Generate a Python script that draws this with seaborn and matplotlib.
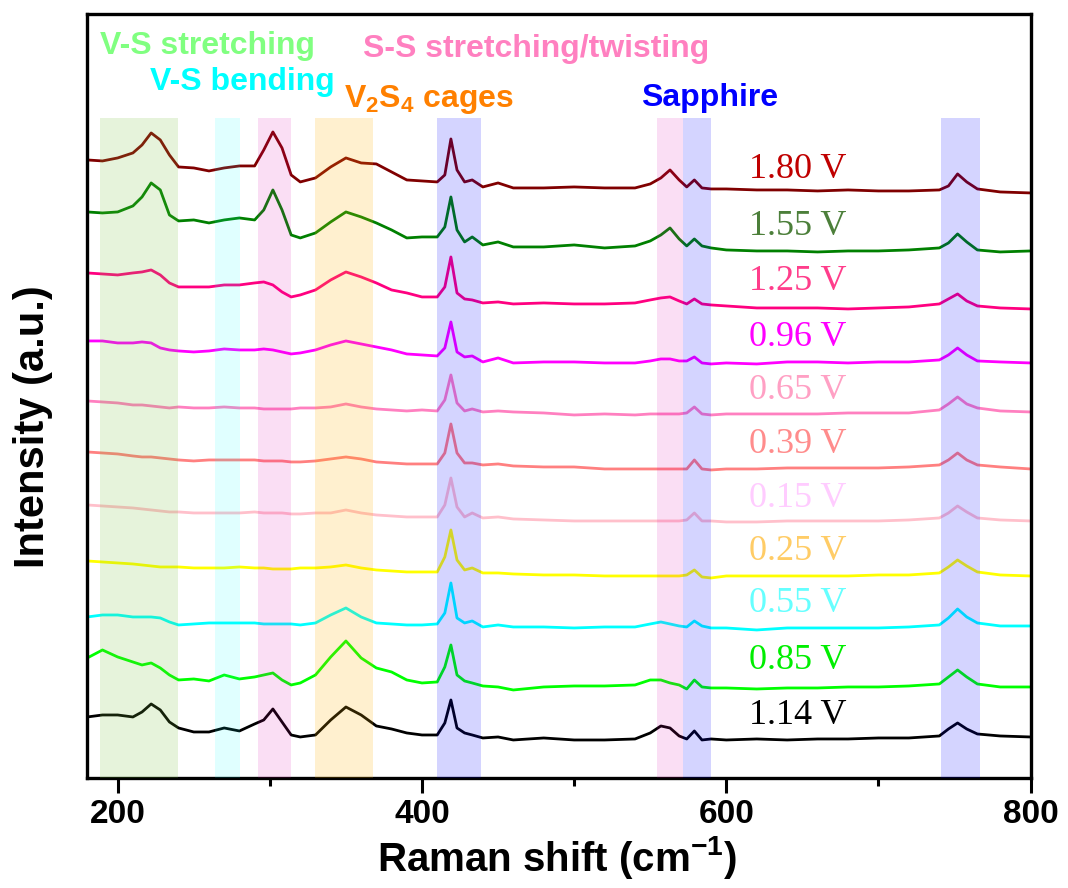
import numpy as np
import pandas as pd
import matplotlib
matplotlib.use("Agg")
import matplotlib.pyplot as plt
import seaborn as sns
from matplotlib.ticker import MultipleLocator

# ---------------- data ----------------
shift = [180, 190, 200, 210, 216, 222, 228, 234, 240, 250,
         260, 270, 280, 290, 296, 302, 308, 314, 320, 330,
         340, 350, 360, 370, 380, 390, 400, 410, 415, 419,
         423, 428, 433, 440, 450, 460, 480, 500, 520, 540,
         550, 557, 563, 569, 574, 579, 584, 590, 600, 620,
         640, 660, 680, 700, 720, 740, 746, 752, 758, 765,
         780, 800]

voltages = ["1.80 V", "1.55 V", "1.25 V", "0.96 V", "0.65 V", "0.39 V",
            "0.15 V", "0.25 V", "0.55 V", "0.85 V", "1.14 V"]

I_180 = [618, 617, 620, 625, 633, 645, 638, 623, 611, 610,
         607, 610, 612, 612, 628, 646, 630, 603, 596, 600,
         611, 620, 615, 614, 606, 598, 597, 596, 603, 639,
         608, 596, 598, 591, 595, 590, 590, 591, 590, 590,
         594, 600, 608, 598, 591, 598, 590, 589, 589, 588,
         588, 587, 588, 587, 587, 588, 592, 604, 596, 589,
         586, 585]
I_155 = [566, 565, 566, 572, 581, 595, 588, 563, 557, 558,
         555, 558, 560, 558, 568, 588, 568, 543, 540, 545,
         556, 566, 561, 555, 548, 540, 541, 541, 551, 581,
         548, 536, 541, 533, 536, 531, 531, 533, 530, 532,
         537, 543, 550, 539, 532, 539, 532, 530, 528, 527,
         527, 526, 527, 527, 528, 530, 535, 544, 536, 528,
         526, 527]
I_125 = [505, 504, 503, 505, 506, 508, 503, 495, 491, 491,
         491, 493, 493, 495, 496, 493, 486, 481, 483, 488,
         498, 506, 501, 495, 488, 485, 481, 481, 491, 521,
         485, 479, 478, 475, 476, 474, 475, 474, 474, 475,
         478, 480, 481, 477, 474, 479, 474, 473, 472, 470,
         470, 470, 469, 470, 471, 474, 479, 484, 477, 472,
         470, 469]
I_096 = [437, 437, 435, 435, 436, 435, 430, 428, 427, 426,
         427, 429, 428, 428, 429, 428, 426, 424, 425, 428,
         433, 437, 434, 431, 428, 424, 423, 422, 430, 456,
         426, 421, 422, 416, 420, 415, 416, 416, 415, 415,
         417, 419, 419, 417, 417, 421, 415, 414, 415, 414,
         416, 416, 415, 416, 416, 418, 423, 430, 423, 417,
         416, 415]
I_065 = [377, 376, 375, 373, 373, 372, 371, 370, 371, 370,
         370, 371, 370, 370, 369, 369, 369, 369, 370, 370,
         371, 374, 371, 369, 368, 367, 368, 367, 378, 403,
         375, 367, 369, 366, 367, 366, 365, 363, 364, 363,
         364, 364, 364, 364, 365, 371, 364, 363, 364, 364,
         364, 364, 365, 365, 365, 368, 374, 381, 374, 370,
         367, 366]
I_039 = [326, 325, 324, 322, 321, 321, 320, 319, 318, 317,
         318, 318, 318, 318, 317, 317, 317, 316, 316, 317,
         319, 321, 319, 316, 315, 314, 314, 314, 325, 354,
         325, 315, 315, 313, 314, 312, 311, 311, 309, 309,
         309, 309, 309, 309, 309, 318, 309, 308, 309, 309,
         310, 310, 310, 310, 311, 313, 318, 325, 318, 313,
         311, 309]
I_015 = [273, 272, 271, 270, 269, 268, 267, 266, 266, 265,
         265, 265, 265, 266, 265, 265, 265, 264, 264, 265,
         265, 268, 265, 263, 262, 261, 261, 261, 273, 300,
         271, 261, 265, 260, 261, 259, 258, 257, 257, 257,
         257, 257, 257, 257, 258, 265, 257, 257, 256, 256,
         257, 257, 257, 257, 258, 260, 265, 272, 266, 260,
         258, 257]
I_025 = [217, 216, 215, 214, 213, 212, 211, 211, 211, 210,
         210, 210, 211, 210, 210, 209, 209, 209, 210, 210,
         211, 213, 210, 208, 207, 206, 206, 206, 221, 248,
         218, 208, 210, 205, 205, 204, 203, 203, 202, 202,
         202, 202, 202, 202, 203, 208, 201, 200, 202, 202,
         202, 202, 202, 203, 203, 205, 211, 218, 212, 206,
         203, 202]
I_055 = [161, 163, 163, 161, 161, 161, 160, 156, 153, 154,
         155, 155, 155, 155, 154, 154, 154, 154, 153, 155,
         163, 170, 161, 155, 154, 153, 153, 154, 165, 195,
         160, 155, 157, 151, 153, 151, 151, 150, 151, 151,
         154, 156, 154, 152, 151, 157, 152, 150, 150, 148,
         150, 150, 150, 150, 151, 153, 160, 169, 161, 155,
         152, 152]
I_085 = [120, 128, 121, 116, 113, 115, 110, 103, 98, 99,
         97, 103, 99, 101, 103, 105, 98, 93, 95, 103,
         121, 137, 120, 110, 106, 98, 95, 96, 111, 133,
         103, 97, 95, 92, 91, 88, 91, 92, 92, 93,
         98, 98, 95, 93, 89, 98, 91, 90, 90, 89,
         90, 90, 91, 91, 92, 94, 101, 108, 101, 94,
         91, 91]
I_114 = [61, 63, 63, 61, 66, 74, 68, 56, 50, 46,
         46, 50, 47, 54, 58, 69, 56, 43, 41, 43,
         58, 71, 63, 52, 49, 45, 43, 43, 55, 78,
         50, 45, 43, 40, 41, 38, 40, 38, 38, 39,
         45, 52, 50, 42, 39, 47, 38, 39, 38, 39,
         38, 39, 39, 40, 40, 42, 49, 55, 49, 44,
         42, 41]

spectra = [I_180, I_155, I_125, I_096, I_065, I_039, I_015, I_025, I_055, I_085, I_114]

# label baseline heights (same a.u. scale)
label_y = [600, 543, 488, 432, 379, 325, 271, 218, 166, 109, 54]
label_x = 615

line_colors = ["#800000", "#008000", "#FF0080", "#FF00FF", "#FF80C0", "#FF8080",
               "#FFC0CB", "#FFFF00", "#00FFFF", "#00FF00", "#000000"]
label_colors = ["#C00000", "#4C7F3A", "#FF3D8B", "#FF00FF", "#FFA0C4", "#FF8C8C",
                "#FFCCFF", "#FFCC66", "#66FFFF", "#00EE00", "#000000"]

# shaded bands (start, end, colour, alpha)
bands = [(188.4, 239.5, "#78BE3C", 0.18),
         (264.1, 280.6, "#00FFFF", 0.12),
         (292.4, 314.2, "#DC00AA", 0.13),
         (329.4, 367.6, "#FFB400", 0.19),
         (409.7, 439.1, "#0000FF", 0.17),
         (554.6, 571.7, "#DC00AA", 0.13),
         (571.7, 590.1, "#0000FF", 0.17),
         (741.2, 766.5, "#0000FF", 0.17)]

annotations = [("V-S stretching", 188.4, 724, "#80FF80"),
               ("V-S bending", 221.4, 688, "#00FFFF"),
               (r"V$_\mathbf{2}$S$_\mathbf{4}$ cages", 348.5, 671, "#FF8000"),
               ("S-S stretching/twisting", 361.0, 721, "#FF80C0"),
               ("Sapphire", 544.0, 672, "#0000FF")]

# ---------------- build long table ----------------
df = pd.concat([pd.DataFrame({"shift": shift, "intensity": s, "voltage": v})
                for v, s in zip(voltages, spectra)], ignore_index=True)

sns.set_style("white")
plt.rcParams["font.family"] = ["Liberation Sans", "DejaVu Sans"]
plt.rcParams["mathtext.fontset"] = "custom"
plt.rcParams["mathtext.rm"] = "Liberation Sans:bold"
plt.rcParams["mathtext.bf"] = "Liberation Sans:bold"
plt.rcParams["mathtext.it"] = "Liberation Sans:bold"
plt.rcParams["text.color"] = "black"
plt.rcParams["axes.labelcolor"] = "black"
plt.rcParams["xtick.color"] = "black"
plt.rcParams["xtick.labelcolor"] = "black"

fig = plt.figure(figsize=(10.68, 8.88), dpi=100)
ax = fig.add_axes([0.0817, 0.1239, 0.8833, 0.8604])

sns.lineplot(data=df, x="shift", y="intensity", hue="voltage", hue_order=voltages,
             palette=line_colors, sort=False, estimator=None, legend=False,
             linewidth=2.0, ax=ax, zorder=2)

top = 0.864
for x0, x1, c, a in bands:
    ax.axvspan(x0, x1, ymin=0, ymax=top, color=c, alpha=a, lw=0, zorder=3)

for txt, x, y, c in annotations:
    ax.text(x, y, txt, color=c, fontsize=23, fontweight="bold",
            family="Liberation Sans", ha="left", va="baseline", zorder=4)

for v, y, c in zip(voltages, label_y, label_colors):
    ax.text(label_x, y, v, color=c, fontsize=26, family="Liberation Serif",
            ha="left", va="baseline", zorder=4)

ax.set_xlim(180, 800)
ax.set_ylim(0, 764)
ax.set_yticks([])
ax.xaxis.set_major_locator(MultipleLocator(200))
ax.xaxis.set_minor_locator(MultipleLocator(100))
ax.tick_params(axis="x", which="major", direction="out", length=11, width=2.2,
               pad=4, labelsize=24, bottom=True, color="black", labelcolor="black")
ax.tick_params(axis="x", which="minor", direction="out", length=6, width=2.2,
               bottom=True, color="black")
for lab in ax.get_xticklabels():
    lab.set_fontweight("bold")

for sp in ax.spines.values():
    sp.set_visible(True)
    sp.set_linewidth(2.4)
    sp.set_color("black")

ax.set_xlabel(r"Raman shift (cm$^{\mathbf{-1}}$)", fontsize=29, fontweight="bold",
              color="black")
ax.set_ylabel("Intensity (a.u.)", fontsize=30, fontweight="bold", color="black")
ax.xaxis.set_label_coords(0.498, -0.073)
ax.yaxis.set_label_coords(-0.036, 0.46)

fig.savefig("out.png", dpi=100)
